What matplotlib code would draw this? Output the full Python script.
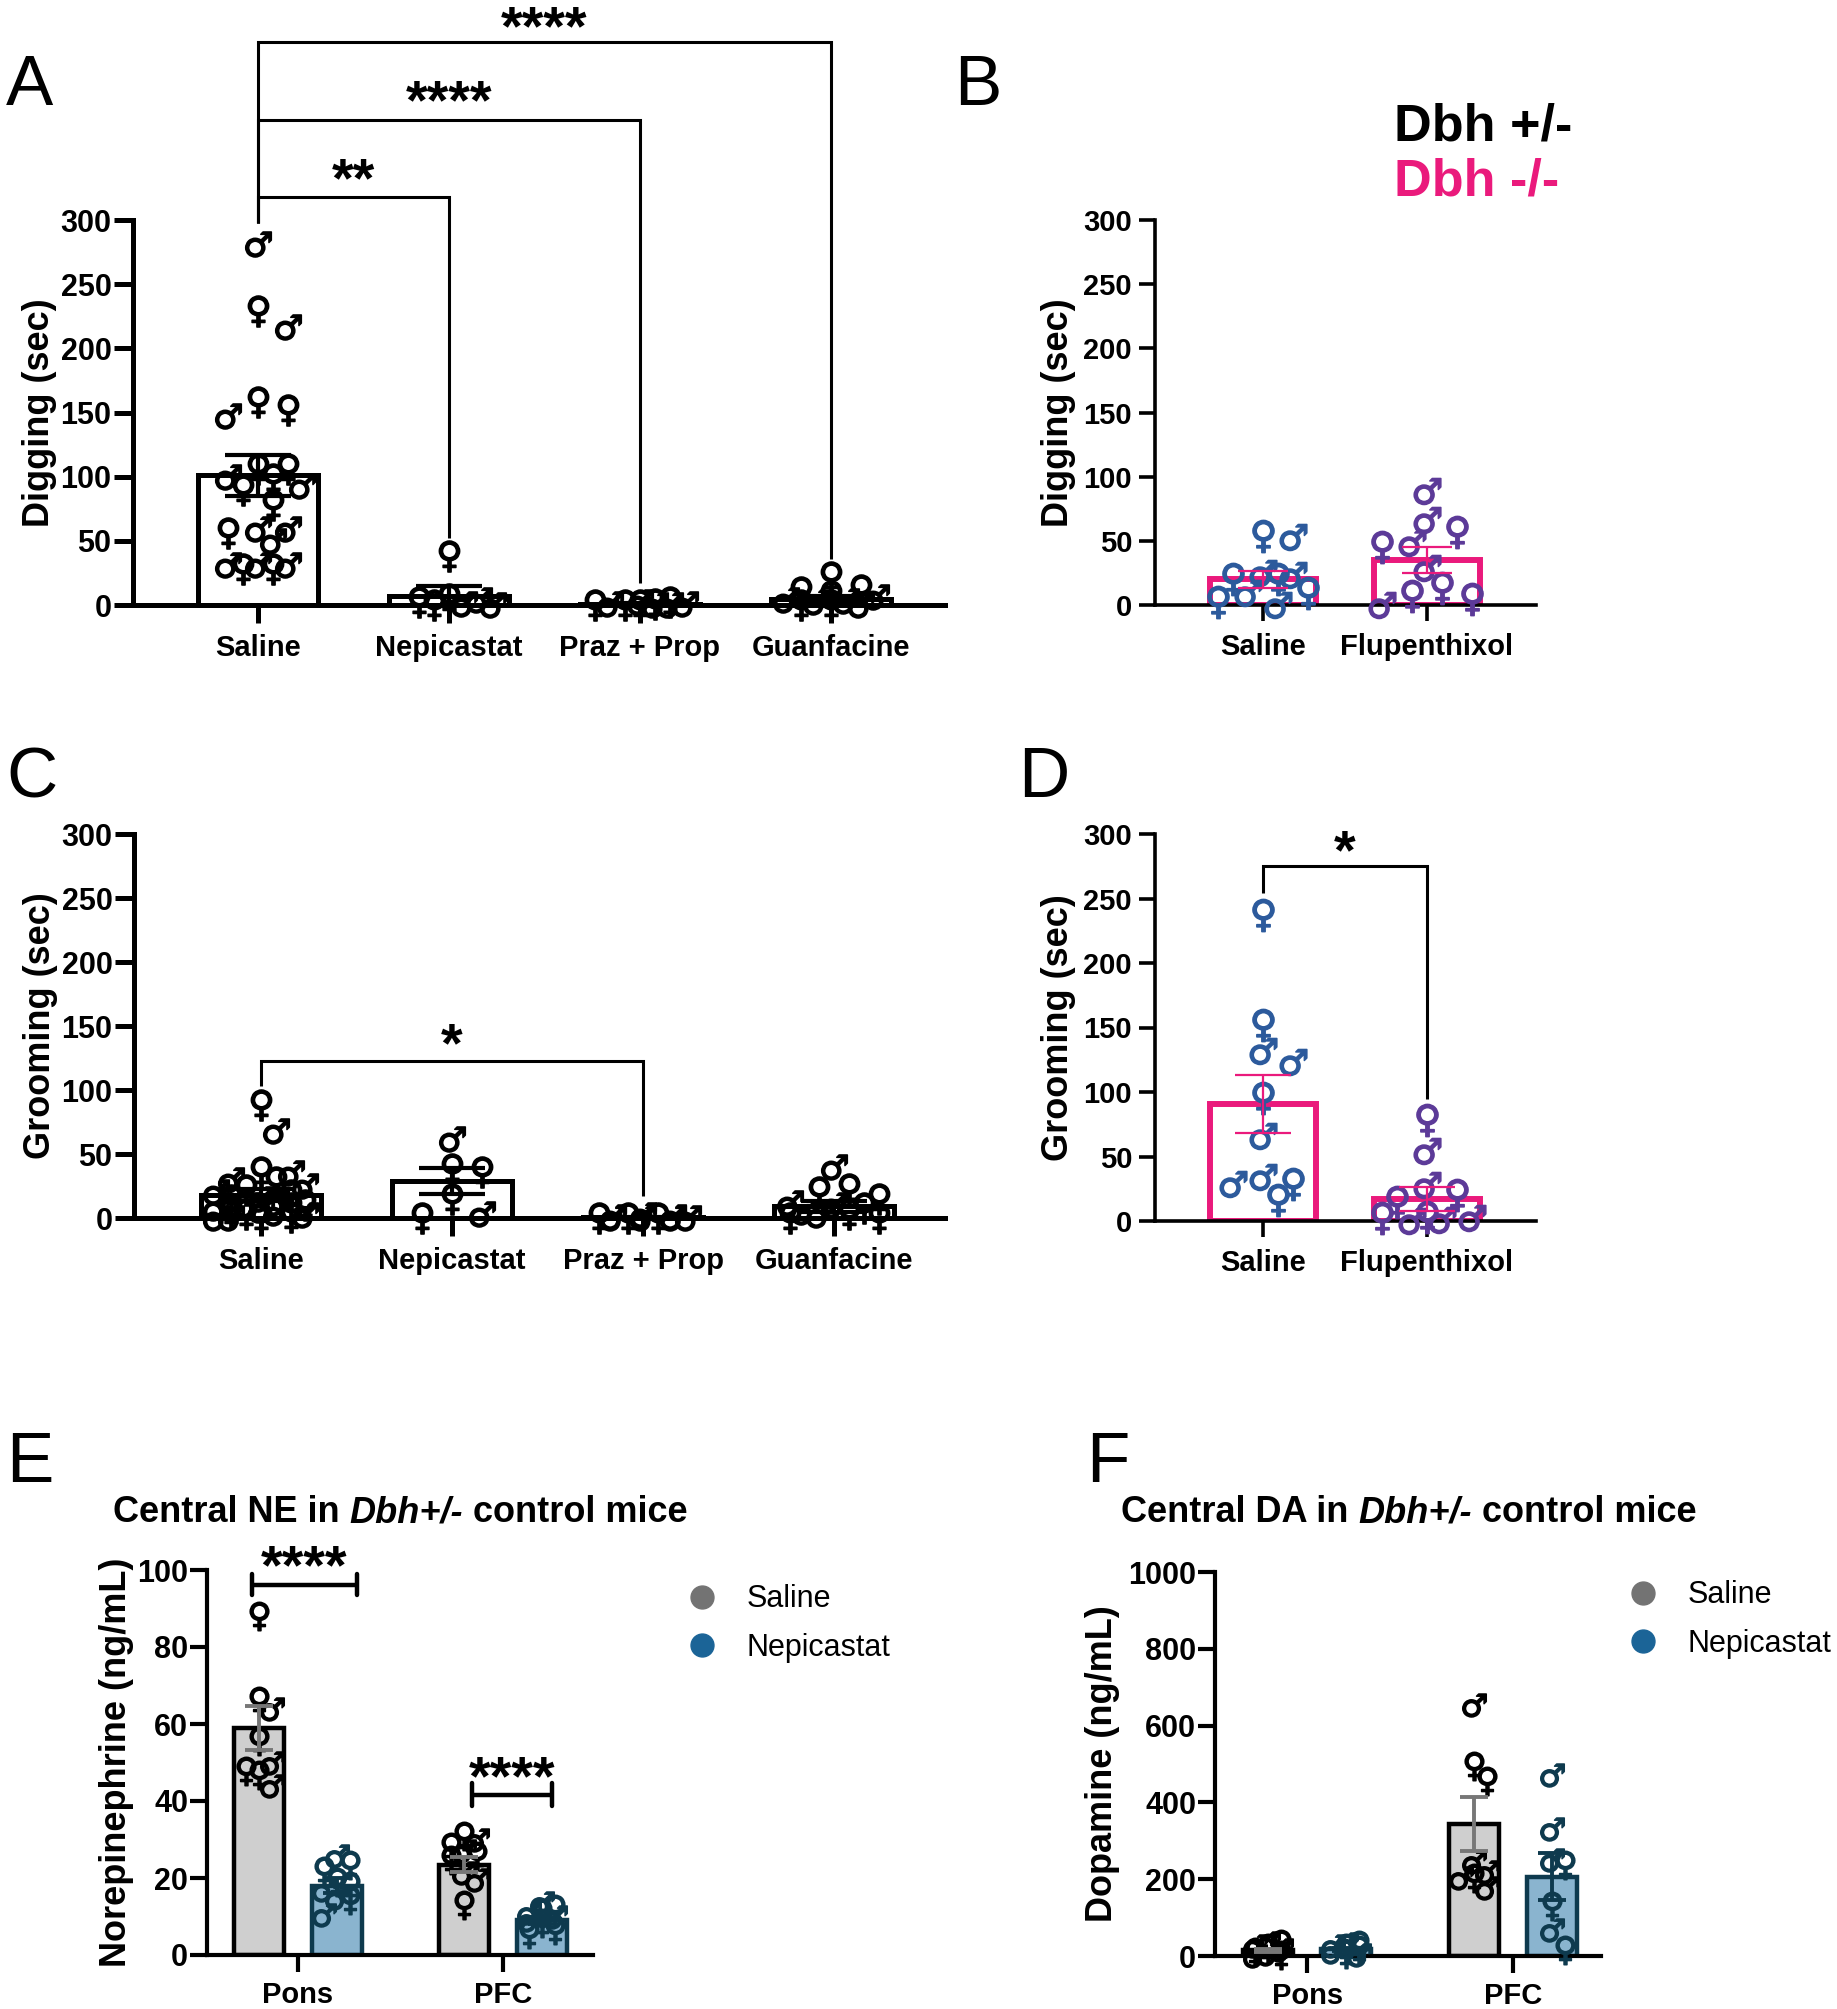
import numpy as np
import matplotlib
matplotlib.use('Agg')
import matplotlib.pyplot as plt
from matplotlib.textpath import TextPath
from matplotlib.font_manager import FontProperties
from matplotlib.path import Path
from matplotlib.lines import Line2D

W, H = 1837, 2009
DPI = 100
plt.rcParams['font.family'] = ['Liberation Sans', 'DejaVu Sans']

# ----------------------------- data -----------------------------
# Panel A: Digging (sec), Dbh+/- mice
A_cats = ['Saline', 'Nepicastat', 'Praz + Prop', 'Guanfacine']
A_sal_vals = [281, 229, 217, 158, 152, 147, 106, 106, 100, 98, 93, 90, 78, 59, 59, 56, 50, 31, 31, 31, 28, 28]
A_sal_sex = list('MFMFFMFFMFMFFMMFMMMMFF')
A_nep_vals = [38, 0, 4, 0, 1, 5, 2]
A_nep_sex = list('FMMFMFF')
A_pp_vals = [2, 1, 1, 0, 0, 0, 0, 0, 1, 2]
A_pp_sex = list('MMFFFFMMMF')
A_gua_vals = [12, 10, 7, 22, 0, 3, 0, 4, 0, 6, 2]
A_gua_sex = list('FFFFMMFMFMM')
A_means = [101, 7, 1, 5]
A_sems = [16, 8, 0.5, 2]

# Panel B: Digging (sec), Dbh-/- mice
B_cats = ['Saline', 'Flupenthixol']
B_sal_vals = [53, 54, 23, 20, 25, 20, 2, 9, 9, 0]
B_sal_sex = list('MFMFMFFFMM')
B_flu_vals = [89, 66, 57, 48, 45, 29, 13, 0, 5, 7]
B_flu_sex = list('MMFMFMFMFF')
B_means = [20, 35]
B_sems = [6.5, 10]

# Panel C: Grooming (sec), Dbh+/- mice
C_cats = ['Saline', 'Nepicastat', 'Praz + Prop', 'Guanfacine']
C_sal_vals = [88, 68, 36, 35, 30, 28, 25, 22, 20, 18, 15, 14, 12, 10, 10, 8, 8, 6, 5, 4, 3, 2, 1, 0, 0, 0]
C_sal_sex = list('FMFMMFMFMFMFMFMMFMFMFMFMFM')
C_nep_vals = [62, 38, 36, 15, 3, 0]
C_nep_sex = list('MFFFMF')
C_pp_vals = [0, 0, 1, 0, 0, 2, 0, 1, 0, 0]
C_pp_sex = list('FFMMFMMMMM')
C_gua_vals = [40, 23, 20, 15, 12, 10, 8, 5, 3, 0, 0, 2]
C_gua_sex = list('MFFFMMFMFFFM')
C_means = [18, 29, 0.5, 9]
C_sems = [5, 10, 0.3, 4]

# Panel D: Grooming (sec), Dbh-/- mice
D_cats = ['Saline', 'Flupenthixol']
D_sal_vals = [237, 152, 123, 132, 95, 66, 34, 29, 29, 16]
D_sal_sex = list('FFMMFMMFMF')
D_flu_vals = [78, 54, 28, 20, 15, 2, 1, 3, 0, 2]
D_flu_sex = list('FMMFFMMFMF')
D_means = [91, 17]
D_sems = [22.5, 9]

# Panel E: Norepinephrine (ng/mL)
E_cats = ['Pons', 'PFC']
E_groups = ['Saline', 'Nepicastat']
E_pons_sal_vals = [88, 66, 64, 55.5, 50, 47.7, 46.8, 43.8]
E_pons_sal_sex = list('FFMFMFFM')
E_pons_nep_vals = [25.6, 23.4, 21.7, 17.8, 17, 14.3, 10.4, 14.7, 19]
E_pons_nep_sex = list('MFFFMFMMF')
E_pfc_sal_vals = [30.8, 30, 28, 26.9, 25.6, 24.7, 21.2, 19.5, 13]
E_pfc_sal_sex = list('FMFMFFMMF')
E_pfc_nep_vals = [13.4, 12, 10.8, 10, 8.2, 6.5, 5.5, 9, 11]
E_pfc_nep_sex = list('MFFMFFFMM')
E_sal_means = [59, 23.5]
E_sal_sems = [5.7, 2]
E_nep_means = [18, 9]
E_nep_sems = [2, 1]

# Panel F: Dopamine (ng/mL)
F_cats = ['Pons', 'PFC']
F_pons_sal_vals = [35, 30, 25, 20, 15, 10, 5, 2, 0]
F_pons_sal_sex = list('MFMFMFMFM')
F_pons_nep_vals = [30, 28, 25, 20, 15, 10, 5, 2]
F_pons_nep_sex = list('MFMFFMFM')
F_pfc_sal_vals = [654, 495, 457, 245, 178, 202, 202, 220]
F_pfc_sal_sex = list('MFFMMMFM')
F_pfc_nep_vals = [471, 332, 250, 236, 130, 67, 15]
F_pfc_nep_sex = list('MMMFFMF')
F_sal_means = [15, 344]
F_sal_sems = [4, 70]
F_nep_means = [17, 207]
F_nep_sems = [4, 60]

# ----------------------------- styles -----------------------------
PINK = '#EA1A7C'
BLUE = '#2C5A9C'
PURPLE = '#5C3A98'
TEAL = '#0E3A4E'
GRAY_BAR = '#CFCFCF'
BLUE_BAR = '#8AB4CF'
GRAY_ERR = '#777777'


def glyph_path(ch):
    tp = TextPath((0, 0), ch, size=10, prop=FontProperties(family='DejaVu Sans'))
    ext = tp.get_extents()
    v = tp.vertices - [(ext.x0 + ext.x1) / 2, (ext.y0 + ext.y1) / 2]
    return Path(v, tp.codes)


MARK = {'F': glyph_path('\u2640'), 'M': glyph_path('\u2642')}

fig = plt.figure(figsize=(W / DPI, H / DPI), dpi=DPI)


def make_ax(left, right, top, bottom):
    return fig.add_axes([left / W, 1 - bottom / H, (right - left) / W, (bottom - top) / H])


def style_ax(ax, xlim, ylim, yticks, cats, tick_fs, cat_fs, lw, ylen, xlen, ypad, xpad):
    ax.set_xlim(*xlim)
    ax.set_ylim(*ylim)
    for s in ['top', 'right']:
        ax.spines[s].set_visible(False)
    for s in ['left', 'bottom']:
        ax.spines[s].set_linewidth(lw)
        ax.spines[s].set_capstyle('projecting')
    ax.set_yticks(yticks)
    ax.set_yticklabels([str(t) for t in yticks])
    ax.set_xticks(range(len(cats)))
    ax.set_xticklabels(cats)
    ax.tick_params(axis='y', length=ylen, width=lw, labelsize=tick_fs, pad=ypad)
    ax.tick_params(axis='x', length=xlen, width=lw, labelsize=cat_fs, pad=xpad)
    for lab in ax.get_xticklabels() + ax.get_yticklabels():
        lab.set_fontweight('bold')
    ax.patch.set_visible(False)


def set_ylabel(ax, text, x_px, fs):
    ax.set_ylabel(text, fontsize=fs, fontweight='bold', va='center', ha='center')
    bb = ax.get_position()
    xa = (x_px / W - bb.x0) / bb.width
    ax.yaxis.set_label_coords(xa, 0.5)


def swarm(ax, xc, vals, glyph_px, half_px):
    t = ax.transData
    ypx = np.array([t.transform((xc, v))[1] for v in vals])
    ppu = t.transform((xc + 1, 0))[0] - t.transform((xc, 0))[0]
    step = glyph_px * 0.55
    nmax = max(int(half_px // step), 0)
    cands = [0.0]
    for k in range(1, nmax + 1):
        cands += [k * step, -k * step]
    placed = []
    offs = np.zeros(len(vals))
    for i in np.argsort(-np.asarray(vals, dtype=float), kind='stable'):
        best, best_md, chosen = None, -1, None
        for c in cands:
            md = min([np.hypot((c - px) * 1.1, ypx[i] - py) for px, py in placed], default=1e9)
            if md >= glyph_px * 0.95:
                chosen = c
                break
            if md > best_md:
                best_md, best = md, c
        if chosen is None:
            chosen = best
        placed.append((chosen, ypx[i]))
        offs[i] = chosen / ppu
    return xc + offs


def draw_points(ax, xc, vals, sexes, color, size, glyph_px, half_px):
    xs = swarm(ax, xc, vals, glyph_px, half_px)
    vals = np.asarray(vals, dtype=float)
    for sx in ['F', 'M']:
        m = np.array([s == sx for s in sexes])
        if m.any():
            ax.scatter(xs[m], vals[m], marker=MARK[sx], s=size, c=color, edgecolors=color,
                       linewidths=1.1, clip_on=False, zorder=3)


def bracket(ax, x0, x1, y_left, y_top, y_right, lw=2.2, color='black'):
    ax.plot([x0, x0, x1, x1], [y_left, y_top, y_top, y_right], color=color, lw=lw,
            clip_on=False, solid_joinstyle='miter', solid_capstyle='butt', zorder=4)


def stars(ax, x, y, txt, fs=40):
    ax.annotate(txt, xy=(x, y), xytext=(0, -0.47 * fs), textcoords='offset points',
                ha='center', va='baseline', fontsize=fs, fontweight='bold',
                annotation_clip=False, zorder=5)


# ----------------------------- Panel A -----------------------------
axA = make_ax(133, 945, 220, 605)
style_ax(axA, (-0.654, 3.597), (0, 300), [0, 50, 100, 150, 200, 250, 300], A_cats,
         22, 21, 3.6, 14, 13, 1.5, 8)
set_ylabel(axA, 'Digging (sec)', 40, 26)
axA.bar(range(4), A_means, width=0.63, facecolor='white', edgecolor='black', linewidth=3.6, zorder=1)
for xc, v, s in zip(range(4), [A_sal_vals, A_nep_vals, A_pp_vals, A_gua_vals],
                    [A_sal_sex, A_nep_sex, A_pp_sex, A_gua_sex]):
    draw_points(axA, xc, v, s, 'black', 500, 27, 55)
axA.errorbar(range(4), A_means, yerr=A_sems, fmt='none', ecolor='black', elinewidth=3,
             capsize=24, capthick=3, zorder=4)
bracket(axA, 0, 3, 298, 439, 36)
bracket(axA, 0, 2, 298, 378, 17)
bracket(axA, 0, 1, 298, 318, 52)
stars(axA, 1.5, 457, '****')
stars(axA, 1.0, 400, '****')
stars(axA, 0.5, 339, '**')

# ----------------------------- Panel B -----------------------------
axB = make_ax(1155, 1536, 220, 605)
style_ax(axB, (-0.659, 1.665), (0, 300), [0, 50, 100, 150, 200, 250, 300], B_cats,
         21, 21, 2.6, 11.5, 11.5, 5, 9)
set_ylabel(axB, 'Digging (sec)', 1058, 26)
axB.bar(range(2), B_means, width=0.65, facecolor='none', edgecolor=PINK, linewidth=4.3, zorder=1)
draw_points(axB, 0, B_sal_vals, B_sal_sex, BLUE, 540, 27, 45)
draw_points(axB, 1, B_flu_vals, B_flu_sex, PURPLE, 540, 27, 45)
axB.errorbar(range(2), B_means, yerr=B_sems, fmt='none', ecolor=PINK, elinewidth=1.6,
             capsize=18, capthick=1.6, zorder=4)

# ----------------------------- Panel C -----------------------------
axC = make_ax(134, 945, 834, 1218)
style_ax(axC, (-0.664, 3.58), (0, 300), [0, 50, 100, 150, 200, 250, 300], C_cats,
         22, 21, 3.6, 14, 13, 1.5, 8)
set_ylabel(axC, 'Grooming (sec)', 40, 26)
axC.bar(range(4), C_means, width=0.63, facecolor='white', edgecolor='black', linewidth=3.6, zorder=1)
for xc, v, s in zip(range(4), [C_sal_vals, C_nep_vals, C_pp_vals, C_gua_vals],
                    [C_sal_sex, C_nep_sex, C_pp_sex, C_gua_sex]):
    draw_points(axC, xc, v, s, 'black', 500, 27, 55)
axC.errorbar(range(4), C_means, yerr=C_sems, fmt='none', ecolor='black', elinewidth=3,
             capsize=24, capthick=3, zorder=4)
bracket(axC, 0, 2, 103, 122.7, 17)
stars(axC, 1.0, 143, '*')

# ----------------------------- Panel D -----------------------------
axD = make_ax(1155, 1536, 834, 1221)
style_ax(axD, (-0.659, 1.665), (0, 300), [0, 50, 100, 150, 200, 250, 300], D_cats,
         21, 21, 2.6, 11.5, 11.5, 5, 9)
set_ylabel(axD, 'Grooming (sec)', 1058, 26)
axD.bar(range(2), D_means, width=0.65, facecolor='none', edgecolor=PINK, linewidth=4.3, zorder=1)
draw_points(axD, 0, D_sal_vals, D_sal_sex, BLUE, 540, 27, 45)
draw_points(axD, 1, D_flu_vals, D_flu_sex, PURPLE, 540, 27, 45)
axD.errorbar(range(2), D_means, yerr=D_sems, fmt='none', ecolor=PINK, elinewidth=1.6,
             capsize=20, capthick=1.6, zorder=4)
bracket(axD, 0, 1, 254, 275, 94.5)
stars(axD, 0.5, 294, '*')

# ----------------------------- Panel E -----------------------------
OFF = 0.19
BW = 0.24
axE = make_ax(207, 593, 1570, 1955)
style_ax(axE, (-0.444, 1.439), (0, 100), [0, 20, 40, 60, 80, 100], E_cats,
         22, 21, 3.0, 12.5, 12, 1, 7)
set_ylabel(axE, 'Norepinephrine (ng/mL)', 117, 26)
xs = np.arange(2)
axE.bar(xs - OFF, E_sal_means, width=BW, facecolor=GRAY_BAR, edgecolor='black', linewidth=3.2, zorder=1)
axE.bar(xs + OFF, E_nep_means, width=BW, facecolor=BLUE_BAR, edgecolor=TEAL, linewidth=3.2, zorder=1)
draw_points(axE, 0 - OFF, E_pons_sal_vals, E_pons_sal_sex, 'black', 420, 24, 17)
draw_points(axE, 0 + OFF, E_pons_nep_vals, E_pons_nep_sex, TEAL, 420, 24, 17)
draw_points(axE, 1 - OFF, E_pfc_sal_vals, E_pfc_sal_sex, 'black', 420, 24, 17)
draw_points(axE, 1 + OFF, E_pfc_nep_vals, E_pfc_nep_sex, TEAL, 420, 24, 17)
axE.errorbar(xs - OFF, E_sal_means, yerr=E_sal_sems, fmt='none', ecolor=GRAY_ERR, elinewidth=2.8,
             capsize=10, capthick=2.8, zorder=4)
axE.errorbar(xs + OFF, E_nep_means, yerr=E_nep_sems, fmt='none', ecolor=TEAL, elinewidth=2.8,
             capsize=10, capthick=2.8, zorder=4)
for xc, yb, h, a, b, ys in [(0, 96.2, 2.7, -0.224, 0.287, 103.4), (1, 41.6, 3.0, -0.15, 0.24, 48.6)]:
    axE.plot([xc + a, xc + b], [yb, yb], color='black', lw=3.2, clip_on=False, zorder=4,
             solid_capstyle='butt')
    for xx in (xc + a, xc + b):
        axE.plot([xx, xx], [yb - h, yb + h], color='black', lw=3.2, clip_on=False, zorder=4,
                 solid_capstyle='round')
    stars(axE, xc + (a + b) / 2, ys, '****')

# ----------------------------- Panel F -----------------------------
axF = make_ax(1215, 1601, 1572, 1956)
style_ax(axF, (-0.447, 1.427), (0, 1000), [0, 200, 400, 600, 800, 1000], F_cats,
         22, 21, 3.0, 12.5, 12, 1, 7)
set_ylabel(axF, 'Dopamine (ng/mL)', 1102, 26)
axF.bar(xs - OFF, F_sal_means, width=BW, facecolor=GRAY_BAR, edgecolor='black', linewidth=3.2, zorder=1)
axF.bar(xs + OFF, F_nep_means, width=BW, facecolor=BLUE_BAR, edgecolor=TEAL, linewidth=3.2, zorder=1)
draw_points(axF, 0 - OFF, F_pons_sal_vals, F_pons_sal_sex, 'black', 420, 24, 17)
draw_points(axF, 0 + OFF, F_pons_nep_vals, F_pons_nep_sex, TEAL, 420, 24, 17)
draw_points(axF, 1 - OFF, F_pfc_sal_vals, F_pfc_sal_sex, 'black', 420, 24, 17)
draw_points(axF, 1 + OFF, F_pfc_nep_vals, F_pfc_nep_sex, TEAL, 420, 24, 17)
axF.errorbar(xs - OFF, F_sal_means, yerr=F_sal_sems, fmt='none', ecolor=GRAY_ERR, elinewidth=2.8,
             capsize=10, capthick=2.8, zorder=4)
axF.errorbar(xs + OFF, F_nep_means, yerr=F_nep_sems, fmt='none', ecolor=TEAL, elinewidth=2.8,
             capsize=10, capthick=2.8, zorder=4)

# legends
for ax, lx, ly in [(axE, 687, 1623.5), (axF, 1628, 1619.5)]:
    handles = [Line2D([], [], ls='none', marker='o', ms=16.5, mfc='#737373', mec='#737373'),
               Line2D([], [], ls='none', marker='o', ms=16.5, mfc='#1B6497', mec='#1B6497')]
    ax.legend(handles, E_groups, loc='center left', bbox_to_anchor=(lx / W, 1 - ly / H),
              bbox_transform=fig.transFigure, frameon=False, fontsize=22, handlelength=1.0,
              handletextpad=0.95, labelspacing=0.6, borderpad=0, borderaxespad=0, numpoints=1)


# titles with italic genotype
def chain_title(ax, x_px, y_px, p1, p2, p3, fs=26):
    t1 = fig.text(x_px / W, 1 - y_px / H, p1, fontsize=fs, fontweight='bold', ha='left', va='center')
    t2 = ax.annotate(p2, xy=(1, 0), xycoords=t1, xytext=(0.278 * fs, 0), textcoords='offset points',
                     ha='left', va='bottom', fontsize=fs, fontweight='bold', style='italic',
                     annotation_clip=False)
    ax.annotate(p3, xy=(1, 0), xycoords=t2, xytext=(0.278 * fs, 0), textcoords='offset points',
                ha='left', va='bottom', fontsize=fs, fontweight='bold', annotation_clip=False)


chain_title(axE, 113, 1513, 'Central NE in', 'Dbh+/-', 'control mice')
chain_title(axF, 1121, 1513, 'Central DA in', 'Dbh+/-', 'control mice')

# genotype key
fig.text(1394 / W, 1 - 127 / H, 'Dbh +/-', fontsize=37.5, fontweight='bold', color='black', ha='left', va='center')
fig.text(1394 / W, 1 - 182 / H, 'Dbh -/-', fontsize=37.5, fontweight='bold', color=PINK, ha='left', va='center')

# panel letters
for letter, x, y in [('A', 6, 87), ('B', 954, 87), ('C', 6, 779), ('D', 1018, 779),
                     ('E', 6, 1464), ('F', 1086, 1464)]:
    fig.text(x / W, 1 - y / H, letter, fontsize=51, ha='left', va='center')

fig.savefig('out.png', dpi=DPI)
